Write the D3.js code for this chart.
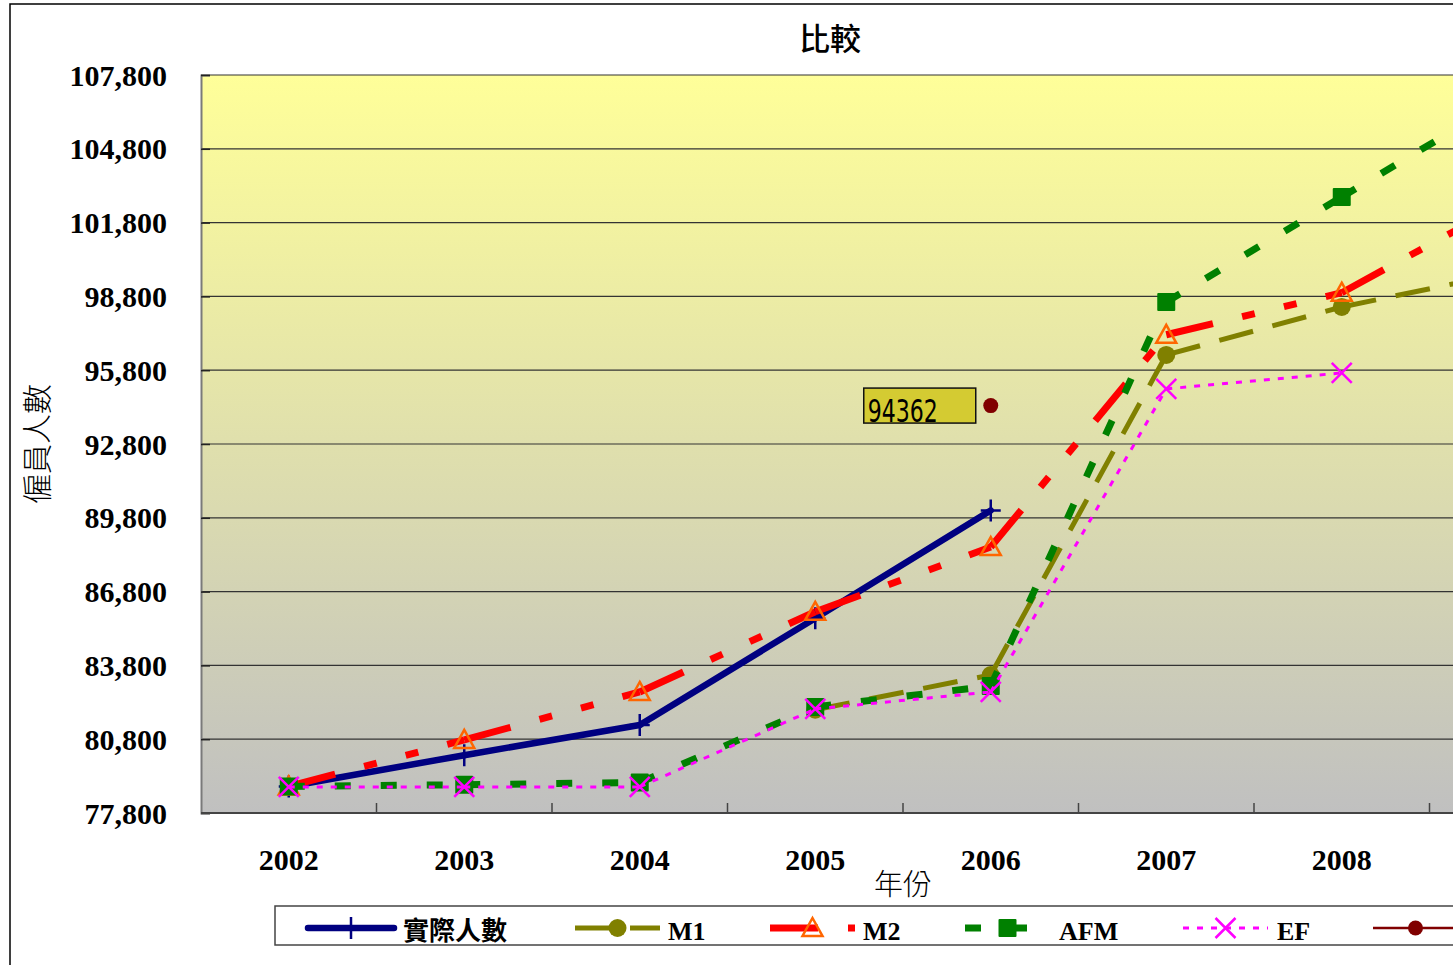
<!DOCTYPE html>
<html>
<head>
<meta charset="utf-8">
<script src="https://cdn.jsdelivr.net/npm/d3@7"></script>
<style>
  html, body { margin: 0; padding: 0; background: #fff; overflow: hidden; }
  svg { display: block; }
</style>
</head>
<body>
<svg id="chart" width="1453" height="965"></svg>
<script>
// Years on the category axis
const years = [2002, 2003, 2004, 2005, 2006, 2007, 2008, 2009];

// Employee counts per series (null = no value for that year)
const actual = [78880, 80150, 81380, 85720, 90100, null, null, null];
const m1     = [null, null, null, 82000, 83410, 96420, 98370, 99850];
const m2     = [78880, 80770, 82720, 85980, 88610, 97240, 98950, 102850];
const afm    = [78880, 78950, 79040, 82110, 82960, 98570, 102840, 107100];
const ef     = [78860, 78860, 78860, 82030, 82720, 95040, 95690, null];
const latest = [null, null, null, null, 94362, null, null, null];

// Axis ticks
const yTicks = [77800, 80800, 83800, 86800, 89800, 92800, 95800, 98800, 101800, 104800, 107800];

const seriesNames = ["實際人數", "M1", "M2", "AFM", "EF", "估計"];

const series = [
  { name: seriesNames[0], values: actual, color: "#000080", width: 6.5, dash: null, cap: "round", marker: "plus", mcolor: "#000080" },
  { name: seriesNames[1], values: m1, color: "#808000", width: 5, dash: "35,20", cap: "butt", marker: "circle", mcolor: "#808000" },
  { name: seriesNames[2], values: m2, color: "#ff0000", width: 7, dash: "48,30,13,30,13,30", cap: "butt", marker: "triangle", mcolor: "#ff6600" },
  { name: seriesNames[3], values: afm, color: "#008000", width: 7, dash: "16,30", cap: "butt", marker: "square", mcolor: "#008000" },
  { name: seriesNames[4], values: ef, color: "#ff00ff", width: 3, dash: "6,8", cap: "butt", marker: "cross", mcolor: "#ff00ff" },
  { name: seriesNames[5], values: latest, color: "#800000", width: 2.5, dash: null, cap: "butt", marker: "dot", mcolor: "#800000", label: true }
];

const W = 1453, H = 965;
const svg = d3.select("#chart");

// Plot area (it runs past the right edge of the page)
const plot = { left: 201, top: 75, right: 1605, bottom: 813 };

const x = d3.scaleBand().domain(years).range([plot.left, plot.right]).padding(0);
const y = d3.scaleLinear().domain([77800, 107800]).range([plot.bottom, plot.top]);
const cx = d => x(d) + x.bandwidth() / 2;

// Background gradient of the plot area
const defs = svg.append("defs");
const grad = defs.append("linearGradient").attr("id", "plotBg")
  .attr("x1", 0).attr("y1", 0).attr("x2", 0).attr("y2", 1);
grad.append("stop").attr("offset", "0%").attr("stop-color", "#ffff99");
grad.append("stop").attr("offset", "100%").attr("stop-color", "#c0c0c0");

// Outer chart frame
svg.append("path").attr("d", `M10,${H} V4 H${W}`)
  .attr("fill", "none").attr("stroke", "#000").attr("stroke-width", 1.5);

svg.append("rect")
  .attr("x", plot.left).attr("y", plot.top)
  .attr("width", plot.right - plot.left).attr("height", plot.bottom - plot.top)
  .attr("fill", "url(#plotBg)");

// Horizontal gridlines
svg.append("g").selectAll("line").data(yTicks).join("line")
  .attr("x1", plot.left).attr("x2", plot.right)
  .attr("y1", d => y(d)).attr("y2", d => y(d))
  .attr("stroke", "#333").attr("stroke-width", 1.2);

// Y axis (ticks drawn inward)
const yAxis = svg.append("g").attr("transform", `translate(${plot.left},0)`)
  .call(d3.axisRight(y).tickValues(yTicks).tickSize(9).tickFormat(""));
yAxis.select(".domain").attr("stroke", "#7a7a7a").attr("stroke-width", 2);
yAxis.selectAll(".tick line").attr("stroke", "#222").attr("stroke-width", 1.5);

svg.append("g").selectAll("text").data(yTicks).join("text")
  .attr("x", 167).attr("y", d => y(d))
  .attr("text-anchor", "end").attr("dominant-baseline", "central")
  .attr("font-family", "'Liberation Serif', 'Times New Roman', serif")
  .attr("font-weight", "bold").attr("font-size", 30).attr("fill", "#000")
  .text(d => d3.format(",")(d));

// X axis with inward ticks at category boundaries
const xBounds = years.slice(1).map(d => x(d));
svg.append("line")
  .attr("x1", plot.left).attr("x2", plot.right)
  .attr("y1", plot.bottom).attr("y2", plot.bottom)
  .attr("stroke", "#444").attr("stroke-width", 2);
svg.append("g").selectAll("line").data(xBounds).join("line")
  .attr("x1", d => d).attr("x2", d => d)
  .attr("y1", plot.bottom - 10).attr("y2", plot.bottom)
  .attr("stroke", "#444").attr("stroke-width", 1.5);

// Category labels that fall inside the page
svg.append("g").selectAll("text").data(years.filter(d => cx(d) + 30 < W)).join("text")
  .attr("x", d => cx(d)).attr("y", 870)
  .attr("text-anchor", "middle")
  .attr("font-family", "'Liberation Serif', 'Times New Roman', serif")
  .attr("font-weight", "bold").attr("font-size", 30).attr("fill", "#000")
  .text(d => d);

// Titles
svg.append("text").attr("x", 830).attr("y", 36)
  .attr("text-anchor", "middle").attr("dominant-baseline", "central")
  .attr("font-family", "'Noto Sans CJK TC', sans-serif").attr("font-size", 31)
  .attr("font-weight", 500)
  .text("比較");
svg.append("text").attr("x", (plot.left + plot.right) / 2).attr("y", 882)
  .attr("text-anchor", "middle").attr("dominant-baseline", "central")
  .attr("font-family", "'Noto Sans CJK TC', sans-serif").attr("font-size", 29)
  .attr("font-weight", 300)
  .text("年份");
svg.append("text")
  .attr("transform", `translate(35,${(plot.top + plot.bottom) / 2}) rotate(-90)`)
  .attr("text-anchor", "middle").attr("dominant-baseline", "central")
  .attr("font-family", "'Noto Sans CJK TC', sans-serif").attr("font-size", 30)
  .attr("font-weight", 300)
  .text("僱員人數");

// Marker drawing
function drawMarker(g, type, color, px, py, s = 1) {
  if (type === "plus") {
    g.append("path").attr("d", `M${px - 10 * s},${py} H${px + 10 * s} M${px},${py - 11 * s} V${py + 11 * s}`)
      .attr("stroke", color).attr("stroke-width", 2.5).attr("fill", "none");
  } else if (type === "circle") {
    g.append("circle").attr("cx", px).attr("cy", py).attr("r", 9 * s).attr("fill", color);
  } else if (type === "triangle") {
    g.append("path").attr("d", `M${px},${py - 10 * s} L${px + 10 * s},${py + 8 * s} L${px - 10 * s},${py + 8 * s} Z`)
      .attr("stroke", color).attr("stroke-width", 2.5).attr("fill", "none");
  } else if (type === "square") {
    g.append("rect").attr("x", px - 9 * s).attr("y", py - 9 * s)
      .attr("width", 18 * s).attr("height", 18 * s).attr("rx", 1).attr("fill", color);
  } else if (type === "cross") {
    g.append("path").attr("d", `M${px - 10 * s},${py - 10 * s} L${px + 10 * s},${py + 10 * s} M${px + 10 * s},${py - 10 * s} L${px - 10 * s},${py + 10 * s}`)
      .attr("stroke", color).attr("stroke-width", 2.5).attr("fill", "none");
  } else if (type === "dot") {
    g.append("circle").attr("cx", px).attr("cy", py).attr("r", 7.5).attr("fill", color);
  }
}

const line = d3.line().x(d => cx(d.year)).y(d => y(d.value));

// Series: each segment drawn on its own so the dash pattern restarts at every point
series.forEach(s => {
  const g = svg.append("g");
  const pts = years.map((yr, i) => ({ year: yr, value: s.values[i] })).filter(d => d.value != null);
  for (let i = 0; i < pts.length - 1; i++) {
    g.append("path").attr("d", line([pts[i], pts[i + 1]]))
      .attr("fill", "none").attr("stroke", s.color).attr("stroke-width", s.width)
      .attr("stroke-dasharray", s.dash).attr("stroke-linecap", s.cap)
      .attr("stroke-linejoin", "round");
  }
  pts.forEach(d => drawMarker(g, s.marker, s.mcolor, cx(d.year), y(d.value)));

  if (s.label) {
    pts.forEach(d => {
      const px = cx(d.year), py = y(d.value);
      const bw = 112, bh = 35;
      const lg = g.append("g");
      lg.append("rect").attr("x", px - 15 - bw).attr("y", py - bh / 2)
        .attr("width", bw).attr("height", bh)
        .attr("fill", "#d4cb32").attr("stroke", "#111").attr("stroke-width", 1.5);
      lg.append("text").attr("x", px - 15 - bw + 4).attr("y", py + bh / 2 - 1)
        .attr("font-family", "'Liberation Sans Narrow', 'Arial Narrow', 'DejaVu Sans Condensed', sans-serif")
        .attr("font-size", 32).attr("textLength", 70).attr("lengthAdjust", "spacingAndGlyphs")
        .attr("fill", "#000")
        .text(d.value);
    });
  }
});

// Legend (its box continues past the right edge of the page)
const legendY = 928;
svg.append("rect").attr("x", 275).attr("y", 906).attr("width", 1300).attr("height", 39)
  .attr("fill", "#fff").attr("stroke", "#444").attr("stroke-width", 1.5);

const legendSymX = [308, 575, 770, 965, 1183, 1373];
const legendTextX = [403, 668, 863, 1059, 1277, 1470];
series.forEach((s, i) => {
  const g = svg.append("g");
  const x0 = legendSymX[i], len = i === 0 ? 86 : 85;
  g.append("line").attr("x1", x0).attr("x2", x0 + len).attr("y1", legendY).attr("y2", legendY)
    .attr("stroke", s.color).attr("stroke-width", s.width)
    .attr("stroke-dasharray", s.dash).attr("stroke-linecap", s.cap);
  drawMarker(g, s.marker, s.mcolor, x0 + len / 2, legendY);
  if (legendTextX[i] < W) {
    g.append("text").attr("x", legendTextX[i]).attr("y", 940)
      .attr("font-family", i === 0 ? "'Noto Sans CJK TC', sans-serif" : "'Liberation Serif', 'Times New Roman', serif")
      .attr("font-weight", "bold").attr("font-size", 26)
      .attr("fill", "#000")
      .text(s.name);
  }
});
</script>
</body>
</html>
